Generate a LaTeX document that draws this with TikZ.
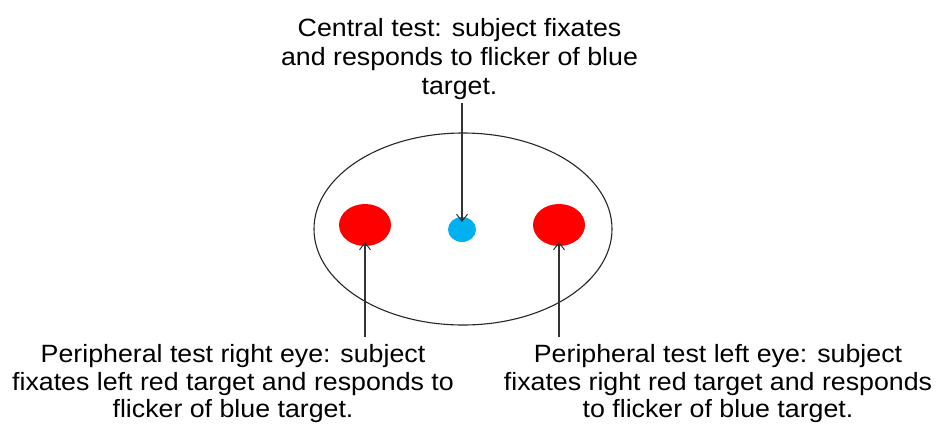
\documentclass[tikz,border=0pt]{standalone}
\usepackage{fontspec}
\setmainfont{Liberation Sans}
\newfontfamily\capfont[FakeStretch=1.07]{Liberation Sans}
\usetikzlibrary{arrows.meta,shapes.geometric}
\begin{document}
\begin{tikzpicture}[x=1pt,y=-1pt,
  caption/.style={align=center,font=\capfont\fontsize{25}{29}\selectfont,inner sep=0pt,anchor=north},
  lowcaption/.style={caption,font=\capfont\fontsize{25}{27.4}\selectfont},
  pointer/.style={draw=black!80,line width=1.2pt,-{Straight Barb[length=7pt,width=11pt,line width=1pt]}},
  spot/.style={draw=none,ellipse,inner sep=0pt}]
\useasboundingbox (0,0) rectangle (936,424);
% field outline
\node[draw=black!85,line width=1.1pt,ellipse,minimum width=298pt,minimum height=192pt,inner sep=0pt] (field) at (463,229) {};
% targets
\node[fill=red,minimum width=52pt,minimum height=42pt,spot] (redL) at (365,225) {};
\node[fill=red,minimum width=52pt,minimum height=42pt,spot] (redR) at (559,225) {};
\node[fill={rgb,255:red,0;green,176;blue,240},minimum width=28pt,minimum height=25pt,spot] (blue) at (462,229.5) {};
% labels
\node[caption] (central) at (459.5,17.7) {Central test: subject fixates\\and responds to flicker of blue\\target.};
\node[lowcaption] (periR) at (233,344.6) {Peripheral test right eye: subject\\fixates left red target and responds to\\flicker of blue target.};
\node[lowcaption] (periL) at (718,344.6) {Peripheral test left eye: subject\\fixates right red target and responds\\to flicker of blue target.};
% pointers
\coordinate (cTop) at (462,103);
\coordinate (lBot) at (365,337);
\coordinate (rBot) at (559,337);
\draw[pointer] (cTop) -- (blue.center |- 0,222);
\draw[pointer] (lBot) -- (redL.center |- 0,242);
\draw[pointer] (rBot) -- (redR.center |- 0,242);
\end{tikzpicture}
\end{document}
